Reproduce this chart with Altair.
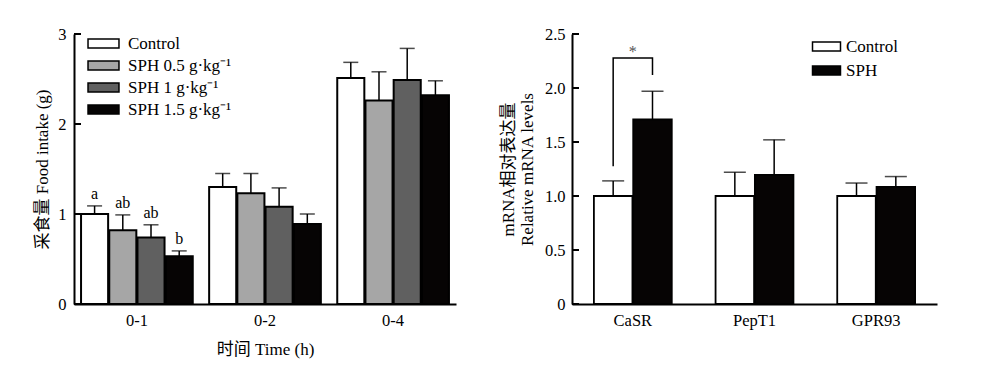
import altair as alt
import pandas as pd

FONT = "Liberation Serif, Noto Sans CJK SC"

# ---------- Left panel data ----------
times = ["0-1", "0-2", "0-4"]
groups = ["Control", "SPH 0.5 g·kg⁻¹", "SPH 1 g·kg⁻¹", "SPH 1.5 g·kg⁻¹"]
group_colors = ["#ffffff", "#a6a6a6", "#606060", "#060404"]
ctrl_mean = [1.00, 1.30, 2.51]
ctrl_top = [1.09, 1.45, 2.685]
sph05_mean = [0.82, 1.23, 2.26]
sph05_top = [0.99, 1.45, 2.58]
sph1_mean = [0.74, 1.08, 2.49]
sph1_top = [0.88, 1.29, 2.84]
sph15_mean = [0.53, 0.89, 2.32]
sph15_top = [0.59, 1.00, 2.48]
letters_01 = ["a", "ab", "ab", "b"]
left_ticks = [0, 1, 2, 3]

# ---------- Right panel data ----------
genes = ["CaSR", "PepT1", "GPR93"]
treats = ["Control", "SPH"]
treat_colors = ["#ffffff", "#060404"]
r_ctrl_mean = [1.00, 1.00, 1.00]
r_ctrl_top = [1.14, 1.22, 1.12]
r_sph_mean = [1.71, 1.195, 1.085]
r_sph_top = [1.97, 1.52, 1.18]
bracket_y = [1.276, 2.277, 2.277, 2.12]
bracket_grp = ["Control", "Control", "SPH", "SPH"]
right_ticks = [0, 0.5, 1.0, 1.5, 2.0, 2.5]

# ---------- Build tables ----------
rows = []
for g, m, t in zip(groups, [ctrl_mean, sph05_mean, sph1_mean, sph15_mean],
                   [ctrl_top, sph05_top, sph1_top, sph15_top]):
    for i, tm in enumerate(times):
        rows.append({"time": tm, "group": g, "mean": m[i], "top": t[i]})
dfl = pd.DataFrame(rows)
dfl_letters = pd.DataFrame([{"time": "0-1", "group": g, "top": dfl[(dfl.time == "0-1") & (dfl.group == g)]["top"].iloc[0], "letter": l}
                            for g, l in zip(groups, letters_01)])
dfl_ticks = pd.DataFrame({"v": left_ticks})

rrows = []
for tr, m, t in zip(treats, [r_ctrl_mean, r_sph_mean], [r_ctrl_top, r_sph_top]):
    for i, gn in enumerate(genes):
        rrows.append({"gene": gn, "treat": tr, "mean": m[i], "top": t[i]})
dfr = pd.DataFrame(rrows)
dfr_br = pd.DataFrame({"gene": ["CaSR"] * 4, "treat": bracket_grp, "y": bracket_y, "ord": [0, 1, 2, 3]})
dfr_star = pd.DataFrame({"gene": ["CaSR"], "y": [2.33], "t": ["*"]})
dfr_ticks = pd.DataFrame({"v": right_ticks})

W_L, W_R, H = 382, 365, 270

# ---------- Left chart ----------
xl = alt.X("time:N", sort=times, scale=alt.Scale(paddingInner=0.128, paddingOuter=0.055),
           axis=alt.Axis(title="时间 Time (h)", labelAngle=0, ticks=False, labelPadding=8, titlePadding=13))
xol = alt.XOffset("group:N", sort=groups, scale=alt.Scale(paddingInner=0.04, paddingOuter=0))
yl_scale = alt.Scale(domain=[0, 3], nice=False)

bars_l = alt.Chart(dfl).mark_bar(stroke="black", strokeWidth=2).encode(
    x=xl, xOffset=xol,
    y=alt.Y("mean:Q", scale=yl_scale,
            axis=alt.Axis(title="采食量 Food intake (g)", values=left_ticks, ticks=False, labelPadding=8,
                          titlePadding=6, format="d")),
    fill=alt.Fill("group:N", sort=groups, scale=alt.Scale(domain=groups, range=group_colors),
                  legend=alt.Legend(title=None, orient="none", legendX=21, legendY=1,
                                    symbolType="M-3.44,-1H3.44V1H-3.44Z", symbolSize=81,
                                    symbolStrokeColor="black", symbolStrokeWidth=1.5,
                                    labelFont=FONT, labelFontSize=17, labelColor="black",
                                    labelOffset=16, rowPadding=4)),
)
err_l = alt.Chart(dfl).mark_rule(color="black", strokeWidth=1.5).encode(
    x=xl, xOffset=xol, y=alt.Y("mean:Q", scale=yl_scale), y2="top:Q")
cap_l = alt.Chart(dfl).mark_tick(color="black", size=15, thickness=1.5).encode(
    x=xl, xOffset=xol, y=alt.Y("top:Q", scale=yl_scale))
let_l = alt.Chart(dfl_letters).mark_text(font=FONT, fontSize=16, color="black", baseline="alphabetic", dy=-7).encode(
    x=xl, xOffset=xol, y=alt.Y("top:Q", scale=yl_scale), text="letter:N")
tk_l = alt.Chart(dfl_ticks).mark_rule(color="black", strokeWidth=2).encode(
    y=alt.Y("v:Q", scale=yl_scale), x=alt.value(0), x2=alt.value(7))

left = alt.layer(bars_l, err_l, cap_l, let_l, tk_l).properties(width=W_L, height=H)

# ---------- Right chart ----------
xr = alt.X("gene:N", sort=genes, scale=alt.Scale(paddingInner=0.36, paddingOuter=0.18),
           axis=alt.Axis(title=None, labelAngle=0, ticks=False, labelPadding=8))
xor = alt.XOffset("treat:N", sort=treats, scale=alt.Scale(paddingInner=0.02, paddingOuter=0))
yr_scale = alt.Scale(domain=[0, 2.5], nice=False)

bars_r = alt.Chart(dfr).mark_bar(stroke="black", strokeWidth=1.8).encode(
    x=xr, xOffset=xor,
    y=alt.Y("mean:Q", scale=yr_scale,
            axis=alt.Axis(title=["mRNA相对表达量", "Relative mRNA levels"], values=right_ticks, ticks=False,
                          labelPadding=7, titlePadding=8, titleLineHeight=19,
                          labelExpr="datum.value == 0 ? '0' : format(datum.value, '.1f')")),
    fill=alt.Fill("treat:N", sort=treats, scale=alt.Scale(domain=treats, range=treat_colors),
                  legend=alt.Legend(title=None, orient="none", legendX=246, legendY=4,
                                    symbolType="M-3.11,-1H3.11V1H-3.11Z", symbolSize=81,
                                    symbolStrokeColor="black", symbolStrokeWidth=1.5,
                                    labelFont=FONT, labelFontSize=17, labelColor="black",
                                    labelOffset=11, rowPadding=6)),
)
err_r = alt.Chart(dfr).mark_rule(color="black", strokeWidth=1.5).encode(
    x=xr, xOffset=xor, y=alt.Y("mean:Q", scale=yr_scale), y2="top:Q")
cap_r = alt.Chart(dfr).mark_tick(color="black", size=22, thickness=1.5).encode(
    x=xr, xOffset=xor, y=alt.Y("top:Q", scale=yr_scale))
br_r = alt.Chart(dfr_br).mark_line(color="black", strokeWidth=1.5).encode(
    x=xr, xOffset=xor, y=alt.Y("y:Q", scale=yr_scale), order="ord:Q")
star_r = alt.Chart(dfr_star).mark_text(font=FONT, fontSize=16, color="#555555", baseline="middle").encode(
    x=xr, y=alt.Y("y:Q", scale=yr_scale), text="t:N")
tk_r = alt.Chart(dfr_ticks).mark_rule(color="black", strokeWidth=2).encode(
    y=alt.Y("v:Q", scale=yr_scale), x=alt.value(0), x2=alt.value(7))

right = alt.layer(bars_r, err_r, cap_r, br_r, star_r, tk_r).properties(width=W_R, height=H)

chart = alt.hconcat(left, right, spacing=43).resolve_scale(
    x="independent", y="independent", fill="independent", xOffset="independent"
).properties(
    padding={"left": 25, "top": 18, "right": 5, "bottom": 5}
).configure(background="white").configure_view(stroke=None).configure_axis(
    domainColor="black", domainWidth=2, grid=False,
    labelFont=FONT, labelFontSize=16.5, labelColor="black",
    titleFont=FONT, titleFontSize=17, titleFontWeight="normal", titleColor="black",
)

chart.save("out.html", embed_options={"renderer": "svg", "actions": False})
